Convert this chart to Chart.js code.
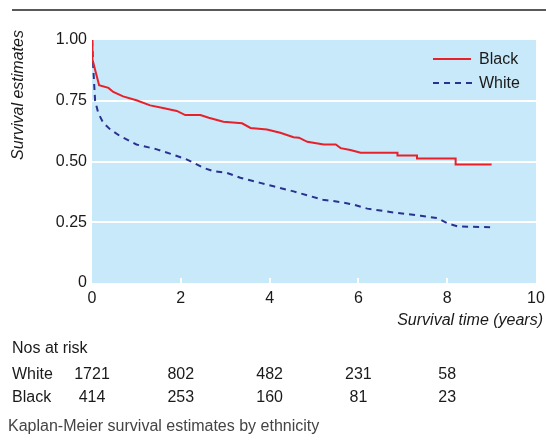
<!DOCTYPE html>
<html>
<head>
<meta charset="utf-8">
<script src="https://cdn.jsdelivr.net/npm/chart.js@4/dist/chart.umd.min.js"></script>
<style>
  html, body { margin: 0; padding: 0; background: #ffffff; }
  #wrap { width: 546px; height: 446px; position: relative; }
</style>
</head>
<body>
<div id="wrap"><canvas id="c" width="546" height="446"></canvas></div>
<script>
// ---- data ----
const blackTimes = [0, 0.01, 0.16, 0.37, 0.48, 0.7, 1.0, 1.31, 1.6, 1.91, 2.1, 2.44, 2.63, 2.96, 3.38, 3.57, 3.94, 4.24, 4.54, 4.66, 4.85, 5.22, 5.49, 5.6, 5.82, 6.05, 6.88, 6.88, 7.32, 7.32, 8.19, 8.19, 9.0];
const blackSurv  = [1.0, 0.92, 0.814, 0.803, 0.786, 0.768, 0.752, 0.731, 0.72, 0.708, 0.691, 0.691, 0.68, 0.664, 0.657, 0.638, 0.632, 0.618, 0.60, 0.598, 0.581, 0.57, 0.57, 0.555, 0.547, 0.536, 0.536, 0.525, 0.525, 0.512, 0.512, 0.488, 0.488];
const whiteTimes = [0, 0.03, 0.07, 0.14, 0.25, 0.41, 0.63, 1.0, 1.46, 1.8, 2.14, 2.51, 2.74, 3.04, 3.34, 3.79, 4.09, 4.54, 4.92, 5.2, 5.6, 5.9, 6.2, 6.88, 7.4, 7.78, 8.0, 8.23, 9.02];
const whiteSurv  = [1.0, 0.88, 0.75, 0.70, 0.66, 0.632, 0.605, 0.57, 0.55, 0.53, 0.508, 0.474, 0.46, 0.453, 0.433, 0.412, 0.398, 0.377, 0.357, 0.343, 0.333, 0.322, 0.306, 0.288, 0.277, 0.267, 0.246, 0.233, 0.229];
const yTickValues = [0, 0.25, 0.5, 0.75, 1.0];
const yTickLabels = ["0", "0.25", "0.50", "0.75", "1.00"];
const xTickValues = [0, 2, 4, 6, 8, 10];
const atRiskTimes = [0, 2, 4, 6, 8];
const atRiskWhite = ["1721", "802", "482", "231", "58"];
const atRiskBlack = ["414", "253", "160", "81", "23"];
const seriesNames = ["Black", "White"];

const FONT = '"Liberation Sans", Arial, sans-serif';
const TXT = '#1a1a1a';

function pts(xs, ys) { return xs.map((x, i) => ({ x: x, y: ys[i] })); }

const decor = {
  id: 'decor',
  beforeDraw(chart) {
    const { ctx, chartArea: a } = chart;
    ctx.save();
    ctx.fillStyle = '#c8e9f9';
    ctx.fillRect(a.left, a.top, a.right - a.left, a.bottom - a.top);
    ctx.restore();
  },
  afterDatasetsDraw(chart) {
    const { ctx, chartArea: a, scales } = chart;
    const xs = scales.x;
    ctx.save();
    ctx.strokeStyle = '#ffffff';
    ctx.lineWidth = 2;
    xTickValues.slice(1, -1).forEach(v => {
      const px = Math.round(xs.getPixelForValue(v));
      ctx.beginPath();
      ctx.moveTo(px, a.bottom);
      ctx.lineTo(px, a.bottom - 5);
      ctx.stroke();
    });
    const lx1 = 433, lx2 = 471;
    ctx.lineWidth = 2;
    ctx.strokeStyle = '#e8202a';
    ctx.beginPath(); ctx.moveTo(lx1, 59); ctx.lineTo(lx2, 59); ctx.stroke();
    ctx.strokeStyle = '#2b3190';
    ctx.setLineDash([6, 5]);
    ctx.beginPath(); ctx.moveTo(lx1, 83); ctx.lineTo(lx2 + 2, 83); ctx.stroke();
    ctx.setLineDash([]);
    ctx.fillStyle = TXT;
    ctx.font = '16px ' + FONT;
    ctx.textBaseline = 'middle';
    ctx.textAlign = 'left';
    ctx.fillText(seriesNames[0], 479, 60);
    ctx.fillText(seriesNames[1], 479, 84);
    ctx.restore();
  },
  afterDraw(chart) {
    const { ctx, scales } = chart;
    const xs = scales.x;
    ctx.save();
    ctx.strokeStyle = '#222222';
    ctx.lineWidth = 1.5;
    ctx.beginPath(); ctx.moveTo(12, 10); ctx.lineTo(546, 10); ctx.stroke();
    ctx.fillStyle = TXT;
    ctx.textBaseline = 'middle';
    ctx.save();
    ctx.translate(19, 95);
    ctx.rotate(-Math.PI / 2);
    ctx.font = 'italic 16px ' + FONT;
    ctx.textAlign = 'center';
    ctx.fillText('Survival estimates', 0, 0);
    ctx.restore();
    ctx.font = 'italic 16px ' + FONT;
    ctx.textAlign = 'right';
    ctx.fillText('Survival time (years)', 543, 321);
    ctx.font = '16px ' + FONT;
    ctx.textAlign = 'left';
    ctx.fillText('Nos at risk', 12, 349);
    ctx.fillText(seriesNames[1], 12, 375);
    ctx.fillText(seriesNames[0], 12, 398);
    ctx.textAlign = 'center';
    atRiskTimes.forEach((t, i) => {
      const px = xs.getPixelForValue(t);
      ctx.fillText(atRiskWhite[i], px, 375);
      ctx.fillText(atRiskBlack[i], px, 398);
    });
    ctx.fillStyle = '#444444';
    ctx.textAlign = 'left';
    ctx.fillText('Kaplan-Meier survival estimates by ethnicity', 8, 427);
    ctx.restore();
  }
};

new Chart(document.getElementById('c'), {
  type: 'scatter',
  data: {
    datasets: [
      { label: seriesNames[0], data: pts(blackTimes, blackSurv), showLine: true, borderColor: '#e8202a', borderWidth: 2, pointRadius: 0, tension: 0, fill: false },
      { label: seriesNames[1], data: pts(whiteTimes, whiteSurv), showLine: true, borderColor: '#2b3190', borderWidth: 2, borderDash: [6, 5], pointRadius: 0, tension: 0, fill: false }
    ]
  },
  options: {
    responsive: false,
    animation: false,
    devicePixelRatio: 1,
    layout: { padding: { left: 0, top: 40, right: 10, bottom: 0 } },
    plugins: { legend: { display: false }, tooltip: { enabled: false } },
    scales: {
      x: {
        type: 'linear', min: 0, max: 10,
        afterFit: s => { s.height = 446 - 283; s.paddingLeft = 0; s.paddingRight = 0; },
        afterBuildTicks: s => { s.ticks = xTickValues.map(v => ({ value: v })); },
        grid: { display: false, drawTicks: false },
        border: { display: false },
        ticks: { color: TXT, font: { family: FONT, size: 16 }, padding: 6, maxRotation: 0, autoSkip: false, callback: v => String(v) }
      },
      y: {
        type: 'linear', min: 0, max: 1,
        afterFit: s => { s.width = 92; s.paddingTop = 0; s.paddingBottom = 0; },
        afterBuildTicks: s => { s.ticks = yTickValues.map(v => ({ value: v })); },
        grid: {
          drawTicks: false,
          color: ctx => (ctx.tick && (ctx.tick.value === 0 || ctx.tick.value === 1)) ? 'rgba(0,0,0,0)' : '#ffffff',
          lineWidth: 2
        },
        border: { display: false },
        ticks: {
          color: TXT, font: { family: FONT, size: 16 }, padding: 5, autoSkip: false,
          callback: (v) => { const i = yTickValues.indexOf(v); return i >= 0 ? yTickLabels[i] : ''; }
        }
      }
    }
  },
  plugins: [decor]
});
</script>
</body>
</html>
